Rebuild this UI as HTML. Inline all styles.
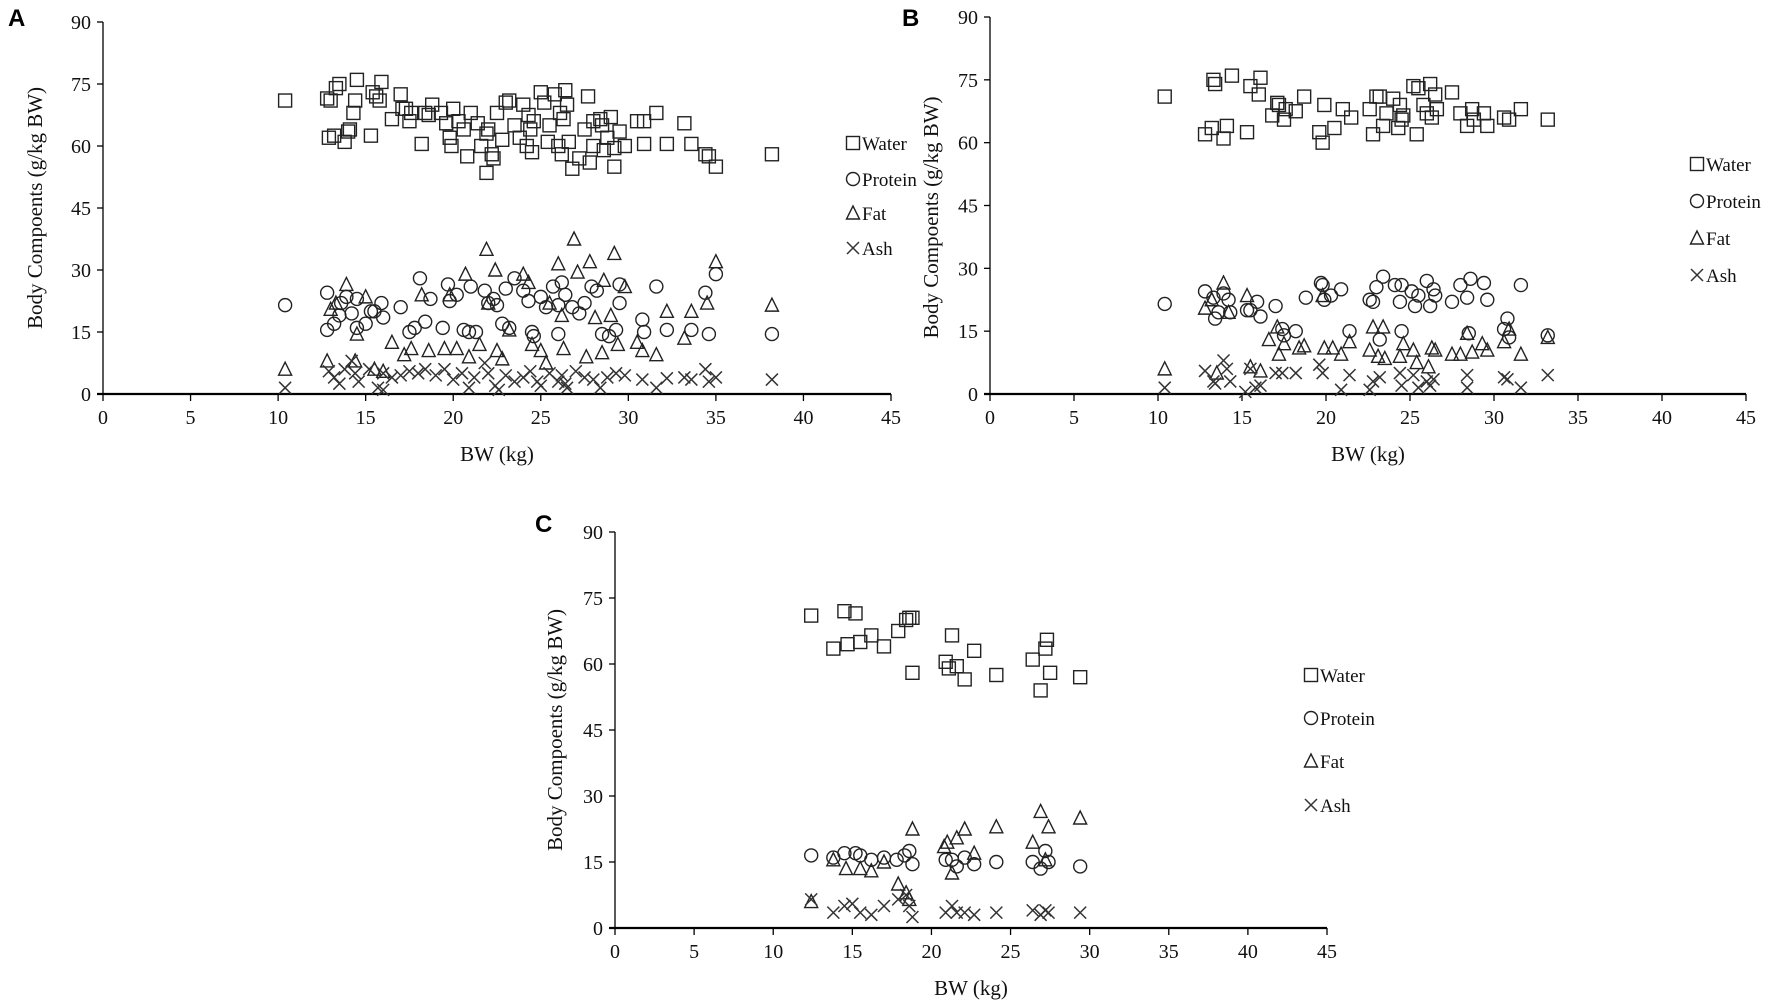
<!DOCTYPE html>
<html><head><meta charset="utf-8"><style>
html,body{margin:0;padding:0;background:#fff;}
svg{display:block;font-family:"Liberation Serif",serif;}
</style></head><body>
<svg id="fig" width="1772" height="1002" viewBox="0 0 1772 1002" xmlns="http://www.w3.org/2000/svg"></svg>
<script>
const xTicks=[0,5,10,15,20,25,30,35,40,45];
const yTicks=[0,15,30,45,60,75,90];
const seriesNames=["Water","Protein","Fat","Ash"];
const aWater=[[10.4,71],[12.8,71.5],[13,71],[12.9,62],[13.2,62.5],[13.3,74],[13.5,75],[13.8,61],[14,63.5],[14.3,68],[14.4,71],[14.5,76],[14.1,64],[15.3,62.5],[15.4,73],[15.6,72],[15.9,75.5],[15.8,71],[16.5,66.5],[17,72.5],[17.1,69],[17.3,69],[17.5,66],[17.6,68],[18.2,60.5],[18.4,68],[18.6,67.5],[18.8,70],[19.3,68],[19.6,65.5],[19.8,62],[19.9,60],[20,69],[20.3,66],[20.6,64],[20.8,57.5],[21,68],[21.4,65.5],[21.6,60],[21.9,63],[21.9,53.5],[22,64],[22.2,58],[22.3,57],[22.5,68],[22.8,61.5],[23,70.5],[23.2,71],[23.5,65],[23.8,62],[24,70],[24.2,60],[24.3,67.5],[24.4,64],[24.5,58.5],[24.6,66],[25,73],[25.2,70.5],[25.4,61],[25.5,65],[25.8,72.5],[26,60],[26.2,58],[26.1,68],[26.3,66.5],[26.4,73.5],[26.5,70],[26.6,61],[26.8,54.5],[27.2,57],[27.5,64],[27.7,72],[27.8,56],[28,60],[28,66],[28.4,66.5],[28.5,65],[28.6,59],[28.8,62],[29,67],[29.2,59.5],[29.2,55],[29.5,63.5],[29.8,60],[30.5,66],[30.9,66],[30.9,60.5],[31.6,68],[32.2,60.5],[33.2,65.5],[33.6,60.5],[34.4,58],[34.6,57.5],[35,55],[38.2,58]];
const aProtein=[[10.4,21.5],[12.8,24.5],[12.8,15.5],[13.2,17],[13.5,19],[13.6,22],[13.9,23.5],[14.2,19.5],[14.5,23],[14.5,16],[15,17],[15.3,20],[15.5,20],[15.9,22],[16,18.5],[17,21],[17.5,15],[17.8,16],[18.1,28],[18.4,17.5],[18.7,23],[19.4,16],[19.7,26.5],[19.8,22.5],[20.2,24],[20.6,15.5],[20.9,15],[21,26],[21.3,15],[21.8,25],[22,22],[22.3,23],[22.5,21.5],[22.8,17],[23,25.5],[23.2,16],[23.5,28],[24,25],[24.3,22.5],[24.5,15],[24.6,14],[25,23.5],[25.3,21],[25.7,26],[26,21.5],[26,14.5],[26.2,27],[26.4,24],[26.8,21],[27.2,19.5],[27.5,22],[27.9,26],[28.2,25],[28.5,14.5],[28.9,14],[29.3,15.5],[29.5,22],[29.5,26.5],[30.8,18],[30.9,15],[31.6,26],[32.2,15.5],[33.6,15.5],[34.4,24.5],[34.6,14.5],[35,29],[38.2,14.5]];
const aFat=[[10.4,6],[12.8,8],[13,20.5],[13.3,22],[13.9,26.5],[14.5,14.5],[14.4,8],[15,23.5],[15.5,6],[16,5.5],[16.5,12.5],[17.2,9.5],[17.6,11],[18.2,24],[18.6,10.5],[19.5,11],[19.8,24],[20.2,11],[20.7,29],[20.9,9],[21.5,12],[21.9,35],[22,22],[22.4,30],[22.5,10.5],[22.8,8.5],[23.2,15.5],[24,29],[24.3,27],[24.5,12],[25,10.5],[25.3,7.5],[25.5,22],[26,31.5],[26.2,19],[26.3,11],[26.9,37.5],[27.1,29.5],[27.6,9],[27.8,32],[28.1,18.5],[28.5,10],[28.6,27.5],[29,19],[29.2,34],[29.4,12],[29.8,26],[30.5,12.5],[30.8,10.5],[31.6,9.5],[32.2,20],[33.2,13.5],[33.6,20],[34.5,22],[35,32],[38.2,21.5]];
const aAsh=[[10.4,1.5],[12.9,5.5],[13.2,4],[13.5,2.5],[13.8,6],[14.2,8],[14.4,5],[14.6,3],[15.2,6],[15.7,1.5],[16,1],[16,5],[16.5,4],[17,4.5],[17.5,5.5],[18,5],[18.4,6],[19,4.5],[19.5,6],[20,3.5],[20.5,5],[20.9,1.5],[21.2,4],[21.8,7.5],[22,5],[22.4,2],[22.6,1],[23,4.5],[23.5,3],[24,4],[24.4,5.5],[24.8,3],[25,2],[25.5,5],[26,3],[26.2,4.5],[26.4,2.5],[26.5,1.5],[27,5.5],[27.5,4],[28,3.5],[28.4,1.5],[28.8,4],[29.3,5],[29.8,4.5],[30.8,3.5],[31.6,1.5],[32.2,3.8],[33.2,4],[33.6,3.5],[34.4,6],[34.6,3],[35,4],[38.2,3.5]];
const bWater=[[10.4,71],[12.8,62],[13.2,63.5],[13.3,75],[13.4,74],[13.9,61],[14.1,64],[14.4,76],[15.3,62.5],[15.5,73.5],[16,71.5],[16.1,75.5],[16.8,66.5],[17.1,69.5],[17.2,69],[17.5,65.5],[17.6,68],[18.2,67.5],[18.7,71],[19.6,62.5],[19.8,60],[19.9,69],[20.5,63.5],[21,68],[21.5,66],[22.6,68],[22.8,62],[23,71],[23.2,71],[23.4,64],[23.6,67],[24,70.5],[24.3,63.5],[24.4,69],[24.5,65.5],[24.6,66.5],[25.2,73.5],[25.4,62],[25.5,73],[25.8,69],[26,67],[26.2,74],[26.3,66],[26.5,71.5],[26.6,68],[27.5,72],[28,67],[28.4,64],[28.7,68],[28.8,65.5],[29.4,67],[29.6,64],[30.6,66],[30.9,65.5],[31.6,68],[33.2,65.5]];
const bProtein=[[10.4,21.5],[12.8,24.5],[13.3,23],[13.4,18],[13.6,19.5],[13.9,24],[14.2,22.5],[14.3,19.5],[15.3,20],[15.5,20],[15.9,22],[16.1,18.5],[17,21],[17.4,15.5],[17.5,14],[18.2,15],[18.8,23],[19.7,26.5],[19.8,26],[19.9,22.5],[20.3,23.5],[20.9,25],[21.4,15],[22.6,22.5],[22.8,22],[23,25.5],[23.2,13],[23.4,28],[24.1,26],[24.4,22],[24.5,15],[24.5,26],[25.1,24.5],[25.3,21],[25.5,23.5],[26,27],[26.2,21],[26.4,25],[26.5,23.5],[27.5,22],[28,26],[28.4,23],[28.5,14.5],[28.6,27.5],[29.4,26.5],[29.6,22.5],[30.6,15.5],[30.8,18],[30.9,13.5],[31.6,26],[33.2,14]];
const bFat=[[10.4,6],[12.8,20.5],[13.2,22.5],[13.5,5],[13.9,26.5],[14.2,19.5],[15.3,23.5],[15.5,6.5],[16.1,5.5],[16.6,13],[17.1,16],[17.2,9.5],[17.5,12],[18.4,11],[18.7,11.5],[19.8,23.5],[19.9,11],[20.4,11],[20.9,9.5],[21.4,12.5],[22.6,10.5],[22.8,16],[23.1,9],[23.4,16],[23.5,8.5],[24.4,9],[24.6,12],[25.2,10.5],[25.4,7.5],[26.1,6.5],[26.3,11],[26.5,10.5],[27.5,9.5],[28,9.5],[28.4,14.5],[28.7,10],[29.3,12],[29.6,10.5],[30.6,12.5],[30.9,15.5],[31.6,9.5],[33.2,13.5]];
const bAsh=[[10.4,1.5],[12.8,5.5],[13.3,3],[13.4,2.5],[13.9,8],[14.1,6],[14.3,3],[15.2,0.5],[15.5,6],[15.8,1.5],[16.1,2],[17,5],[17.4,5],[18.2,5],[19.6,7],[19.8,5],[20.9,1],[21.4,4.5],[22.6,1],[22.8,3],[23.2,4],[24.4,5],[24.5,2],[25.2,4.5],[25.5,1.5],[26,3],[26.2,2],[26.4,3.5],[28.4,4.5],[28.4,1.5],[30.6,4],[30.8,3.5],[31.6,1.5],[33.2,4.5]];
const cWater=[[12.4,71],[13.8,63.5],[14.5,72],[14.7,64.5],[15.2,71.5],[15.5,65],[16.2,66.5],[17,64],[17.9,67.5],[18.4,70],[18.6,70.5],[18.8,70.5],[18.8,58],[20.9,60.5],[21.1,59],[21.3,66.5],[21.6,59.5],[22.1,56.5],[22.7,63],[24.1,57.5],[26.4,61],[26.9,54],[27.2,63.5],[27.3,65.5],[27.5,58],[29.4,57]];
const cProtein=[[12.4,16.5],[13.8,16],[14.5,17],[15.2,17],[15.5,16.5],[16.2,15.5],[17,16],[17.8,15.5],[18.3,16.5],[18.6,17.5],[18.8,14.5],[20.9,15.5],[21.3,15.5],[21.6,14],[22.1,16],[22.7,14.5],[24.1,15],[26.4,15],[26.9,13.5],[27.2,17.5],[27.4,15],[29.4,14]];
const cFat=[[12.4,6],[13.8,15.5],[14.6,13.5],[15.5,13.5],[16.2,13],[17,15],[17.9,10],[18.4,8],[18.6,6.5],[18.8,22.5],[20.8,18.5],[21,19.5],[21.3,12.5],[21.6,20.5],[22.1,22.5],[22.7,17],[24.1,23],[26.4,19.5],[26.9,26.5],[27.2,15.5],[27.4,23],[29.4,25]];
const cAsh=[[12.4,6.5],[13.8,3.5],[14.5,5],[15,5.5],[15.5,3.5],[16.2,3],[17,5],[17.9,6.5],[18.4,7.5],[18.6,5],[18.8,2.5],[20.9,3.5],[21.3,5],[21.6,3.5],[22.1,3.5],[22.7,3],[24.1,3.5],[26.4,4],[26.9,3],[27.2,4],[27.4,3.5],[29.4,3.5]];

const NS="http://www.w3.org/2000/svg";
const svg=document.getElementById('fig');
function mk(tag,attrs,parent){const e=document.createElementNS(NS,tag);for(const k in attrs)e.setAttribute(k,attrs[k]);(parent||svg).appendChild(e);return e;}
function marker(g,kind,cx,cy){
  let e;
  if(kind===0){e=mk('rect',{x:cx-6.5,y:cy-6.5,width:13,height:13,fill:'none',stroke:'#222','stroke-width':1.4},g);}
  else if(kind===1){e=mk('circle',{cx:cx,cy:cy,r:6.5,fill:'none',stroke:'#222','stroke-width':1.4},g);}
  else if(kind===2){e=mk('path',{d:`M${cx},${cy-7}L${cx+6.5},${cy+6}L${cx-6.5},${cy+6}Z`,fill:'none',stroke:'#222','stroke-width':1.4},g);}
  else {e=mk('path',{d:`M${cx-6},${cy-6}L${cx+6},${cy+6}M${cx+6},${cy-6}L${cx-6},${cy+6}`,fill:'none',stroke:'#333','stroke-width':1.5},g);}
  return e;
}
function panel(p){
  const g=mk('g',{});
  
  
  const xs=v=>p.x0+(p.x45-p.x0)*v/45;
  const ys=v=>p.y0-(p.y0-p.y90)*v/90;
  const lt=mk('text',{x:p.lx,y:p.ly,'font-family':'Liberation Sans,sans-serif','font-weight':'bold','font-size':24,fill:'#000'},g);
  lt.textContent=p.id;
  
  
  const ya=mk('line',{x1:p.x0,y1:p.y90,x2:p.x0,y2:p.y0,stroke:'#000','stroke-width':1.3},g);
  
  
  const xa=mk('line',{x1:p.x0-6,y1:p.y0,x2:p.x45,y2:p.y0,stroke:'#000','stroke-width':2.2},g);
  
  
  yTicks.forEach(v=>{
    mk('line',{x1:p.x0-6,y1:ys(v),x2:p.x0,y2:ys(v),stroke:'#000','stroke-width':1.3},g);
    const t=mk('text',{x:p.x0-12,y:ys(v)+7,'text-anchor':'end','font-size':20,fill:'#111'},g);
    t.textContent=v;
    
    
  });
  xTicks.forEach(v=>{
    mk('line',{x1:xs(v),y1:p.y0,x2:xs(v),y2:p.y0+7,stroke:'#000','stroke-width':1.3},g);
    const t=mk('text',{x:xs(v),y:p.y0+30,'text-anchor':'middle','font-size':20,fill:'#111'},g);
    t.textContent=v;
    
    
  });
  const xt=mk('text',{x:(p.x0+p.x45)/2,y:p.y0+67,'text-anchor':'middle','font-size':21,fill:'#111'},g);
  xt.textContent='BW (kg)';
  
  
  const yc=(p.y0+p.y90)/2+p.ytOff;
  const yt=mk('text',{x:0,y:0,transform:`translate(${p.ytx},${yc}) rotate(-90)`,'text-anchor':'middle','font-size':21,fill:'#111'},g);
  yt.textContent='Body Compoents (g/kg BW)';
  
  
  p.series.forEach((arr,k)=>{
    const sg=mk('g',{},g);
    
    
    arr.forEach(d=>{
      const m=marker(sg,k,xs(d[0]),ys(d[1]));
      
      
    });
  });
  p.leg.forEach((ly,k)=>{
    const lg=mk('g',{},g);
    
    
    marker(lg,k,p.legx,ly);
    const t=mk('text',{x:p.legx+9,y:ly+7,'font-size':19,fill:'#111'},lg);
    t.textContent=seriesNames[k];
  });
}
panel({id:'A',x0:103,x45:891,y90:22,y0:394,lx:8,ly:26,ytx:42,ytOff:0,legx:853,leg:[143,179,213,248],series:[aWater,aProtein,aFat,aAsh]});
panel({id:'B',x0:990,x45:1746,y90:17,y0:394,lx:902,ly:26,ytx:938,ytOff:12,legx:1697,leg:[164,201,238,275],series:[bWater,bProtein,bFat,bAsh]});
panel({id:'C',x0:615,x45:1327,y90:532,y0:928,lx:535,ly:532,ytx:562,ytOff:0,legx:1311,leg:[675,718,761,805],series:[cWater,cProtein,cFat,cAsh]});
</script>
</body></html>
